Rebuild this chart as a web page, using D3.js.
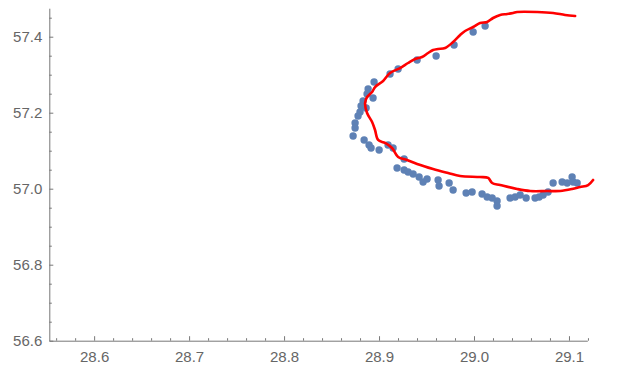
<!DOCTYPE html>
<html>
<head>
<meta charset="utf-8">
<script src="https://cdn.jsdelivr.net/npm/d3@7"></script>
<style>
  body { margin: 0; background: #fff; }
  svg { display: block; }
  .tick text { font-family: "Liberation Sans", Arial, sans-serif; font-size: 15px; fill: #666; }
</style>
</head>
<body>
<div id="chart"></div>
<script>
// tick labels
var xTicks = [28.6, 28.7, 28.8, 28.9, 29.0, 29.1];
var yTicks = [56.6, 56.8, 57.0, 57.2, 57.4];

// scattered points
var pointX = [29.0117, 28.9991, 28.9790, 28.9601, 28.9401, 28.9201, 28.9116, 28.8948, 28.8885, 28.8874,
              28.8937, 28.8832, 28.8811, 28.8864, 28.8800, 28.8779, 28.8748, 28.8748, 28.8727, 28.8843,
              28.8895, 28.8916, 28.9001, 28.9095, 28.9148, 28.9264, 28.9190, 28.9264, 28.9306, 28.9359,
              28.9422, 28.9464, 28.9506, 28.9622, 28.9632, 28.9738, 28.9780, 28.9917, 28.9980, 29.0085,
              29.0138, 29.0191, 29.0243, 29.0243, 29.0380, 29.0433, 29.0486, 29.0549, 29.0643, 29.0686,
              29.0728, 29.0780, 29.0833, 29.0928, 29.0981, 29.1033, 29.1044, 29.1086];
var pointY = [57.4282, 57.4124, 57.3782, 57.3492, 57.3387, 57.3150, 57.3018, 57.2808, 57.2624, 57.2492,
              57.2387, 57.2308, 57.2176, 57.2124, 57.2018, 57.1913, 57.1729, 57.1597, 57.1387, 57.1282,
              57.1150, 57.1071, 57.1018, 57.1150, 57.1071, 57.0782, 57.0545, 57.0492, 57.0439, 57.0387,
              57.0308, 57.0176, 57.0255, 57.0229, 57.0071, 57.0150, 56.9966, 56.9887, 56.9913, 56.9861,
              56.9782, 56.9755, 56.9676, 56.9545, 56.9755, 56.9782, 56.9834, 56.9755, 56.9755, 56.9782,
              56.9834, 56.9913, 57.0150, 57.0176, 57.0150, 57.0308, 57.0176, 57.0150];

// red curve
var lineX = [29.1065, 29.0959, 29.0833, 29.0665, 29.0454, 29.0412, 29.0349, 29.0275, 29.0201, 29.0138,
             29.0064, 28.9991, 28.9906, 28.9854, 28.9780, 28.9696, 28.9622, 28.9569, 28.9517, 28.9453,
             28.9380, 28.9306, 28.9222, 28.9116, 28.9043, 28.8958, 28.8927, 28.8874, 28.8853, 28.8874,
             28.8927, 28.8958, 28.8990, 28.9064, 28.9137, 28.9201, 28.9295, 28.9401, 28.9569, 28.9727,
             28.9854, 29.0064, 29.0149, 29.0191, 29.0275, 29.0454, 29.0591, 29.0770, 29.0907, 29.1033,
             29.1117, 29.1202, 29.1254];
var lineY = [57.4545, 57.4571, 57.4624, 57.4650, 57.4650, 57.4624, 57.4597, 57.4571, 57.4492, 57.4387,
             57.4361, 57.4255, 57.4150, 57.4045, 57.3861, 57.3703, 57.3676, 57.3650, 57.3571, 57.3466,
             57.3413, 57.3308, 57.3176, 57.3045, 57.2834, 57.2676, 57.2545, 57.2413, 57.2255, 57.1992,
             57.1755, 57.1545, 57.1282, 57.1203, 57.1071, 57.0834, 57.0755, 57.0650, 57.0518, 57.0413,
             57.0334, 57.0308, 57.0282, 57.0150, 57.0097, 56.9992, 56.9939, 56.9939, 56.9939, 56.9992,
             57.0045, 57.0097, 57.0229];

var width = 618,
    height = 379;

var svg = d3.select("#chart")
  .append("svg")
    .attr("width", width)
    .attr("height", height);

var x = d3.scaleLinear()
    .domain([28.5528, 29.1193])
    .range([49.3, 587.3]);

var y = d3.scaleLinear()
    .domain([56.6, 57.475])
    .range([340.7, 8.2]);

// minor ticks
var xMinor = d3.range(28.56, 29.12, 0.02).filter(function(v) {
  return Math.abs(v * 10 - Math.round(v * 10)) > 1e-6;
});
var yMinor = d3.range(56.65, 57.47, 0.05).filter(function(v) {
  return Math.abs(v * 5 - Math.round(v * 5)) > 1e-6;
});

svg.append("g")
  .attr("transform", "translate(0," + y(56.6) + ")")
  .call(d3.axisBottom(x).tickValues(xMinor).tickSize(-2.5).tickFormat(""))
  .call(function(g) { g.select(".domain").remove(); })
  .selectAll("line").attr("stroke", "#777");

svg.append("g")
  .attr("transform", "translate(" + x(28.5528) + ",0)")
  .call(d3.axisLeft(y).tickValues(yMinor).tickSize(-2.5).tickFormat(""))
  .call(function(g) { g.select(".domain").remove(); })
  .selectAll("line").attr("stroke", "#777");

function xAxis(g) {
  g.attr("transform", "translate(0," + y(56.6) + ")")
    .call(d3.axisBottom(x)
      .tickValues(xTicks)
      .tickSizeInner(-4.5)
      .tickSizeOuter(0)
      .tickPadding(11)
      .tickFormat(d3.format(".1f")));
  g.select(".domain").attr("stroke", "#777");
  g.selectAll(".tick line").attr("stroke", "#777");
}

function yAxis(g) {
  g.attr("transform", "translate(" + x(28.5528) + ",0)")
    .call(d3.axisLeft(y)
      .tickValues(yTicks)
      .tickSizeInner(-4)
      .tickSizeOuter(0)
      .tickPadding(7)
      .tickFormat(d3.format(".1f")));
  g.select(".domain").attr("stroke", "#777");
  g.selectAll(".tick line").attr("stroke", "#777");
}

svg.append("g").call(xAxis);
svg.append("g").call(yAxis);

// points
var pts = pointX.map(function(v, i) { return [v, pointY[i]]; });
svg.append("g")
  .attr("fill", "#5E81B5")
  .selectAll("circle")
  .data(pts)
  .join("circle")
    .attr("cx", function(d) { return x(d[0]); })
    .attr("cy", function(d) { return y(d[1]); })
    .attr("r", 3.7);

// red curve on top
var curve = lineX.map(function(v, i) { return [v, lineY[i]]; });
var line = d3.line()
  .x(function(d) { return x(d[0]); })
  .y(function(d) { return y(d[1]); })
  .curve(d3.curveCatmullRom);

svg.append("path")
  .datum(curve)
  .attr("fill", "none")
  .attr("stroke", "#ff0000")
  .attr("stroke-width", 2.6)
  .attr("stroke-linejoin", "round")
  .attr("stroke-linecap", "round")
  .attr("d", line);
</script>
</body>
</html>
